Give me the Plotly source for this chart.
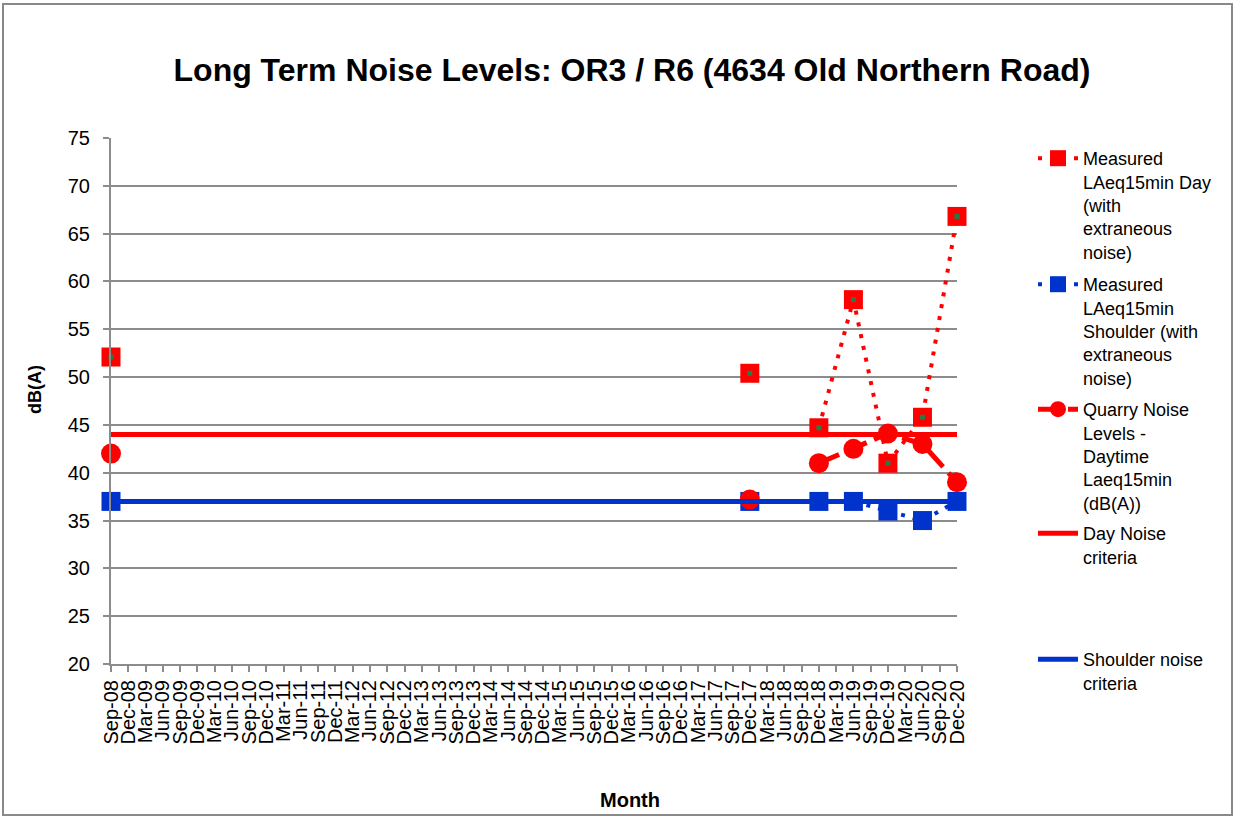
import plotly.graph_objects as go

# ---------------- data ----------------
months = ["Sep-08", "Dec-08", "Mar-09", "Jun-09", "Sep-09", "Dec-09", "Mar-10", "Jun-10",
          "Sep-10", "Dec-10", "Mar-11", "Jun-11", "Sep-11", "Dec-11", "Mar-12", "Jun-12",
          "Sep-12", "Dec-12", "Mar-13", "Jun-13", "Sep-13", "Dec-13", "Mar-14", "Jun-14",
          "Sep-14", "Dec-14", "Mar-15", "Jun-15", "Sep-15", "Dec-15", "Mar-16", "Jun-16",
          "Sep-16", "Dec-16", "Mar-17", "Jun-17", "Sep-17", "Dec-17", "Mar-18", "Jun-18",
          "Sep-18", "Dec-18", "Mar-19", "Jun-19", "Sep-19", "Dec-19", "Mar-20", "Jun-20",
          "Sep-20", "Dec-20"]

measure_dates = ["Sep-08", "Dec-17", "Dec-18", "Jun-19", "Dec-19", "Jun-20", "Dec-20"]
day_measured = [52.1, 50.4, 44.7, 58.1, 41.0, 45.8, 66.8]
shoulder_measured = [37.0, 37.0, 37.0, 37.0, 36.0, 35.0, 37.0]
quarry_noise = [42.0, 37.2, 41.0, 42.5, 44.1, 43.0, 39.0]
connected_from = "Dec-18"   # lines join the points from this survey onwards

day_criteria = [44.0] * len(months)
shoulder_criteria = [37.0] * len(months)

names = [
    "Measured<br>LAeq15min Day<br>(with<br>extraneous<br>noise)",
    "Measured<br>LAeq15min<br>Shoulder (with<br>extraneous<br>noise)",
    "Quarry Noise<br>Levels -<br>Daytime<br>Laeq15min<br>(dB(A))",
    "Day Noise<br>criteria",
    "Shoulder noise<br>criteria",
]

# ---------------- styling ----------------
RED = "#FF0000"
BLUE = "#0033CC"
GREEN = "#237D45"
GRID = "#8C8C8C"
FONT = "Liberation Sans, Arial, sans-serif"

W, H = 1235, 817
PL, PR, PT, PB = 111, 957, 138, 664   # plot area in pixels


def px_x(x):
    return (x - PL) / (PR - PL)


def px_y(y):
    return (PB - y) / (PB - PT)


k = measure_dates.index(connected_from)

fig = go.Figure()


def measured(values, color, marker, size, dash, width, name, legend):
    fig.add_trace(go.Scatter(
        x=measure_dates[k:], y=values[k:], mode="lines",
        line=dict(color=color, width=width, dash=dash),
        showlegend=False, hoverinfo="skip", cliponaxis=False))
    fig.add_trace(go.Scatter(
        x=measure_dates, y=values, mode="markers",
        marker=dict(symbol=marker, size=size, color=color, line=dict(width=0)),
        name=name, legend=legend, cliponaxis=False, showlegend=False))
    fig.add_trace(go.Scatter(
        x=[None], y=[None], mode="lines+markers",
        line=dict(color=color, width=width, dash=dash),
        marker=dict(symbol=marker, size=size, color=color),
        name=name, legend=legend, showlegend=True))


measured(day_measured, RED, "square", 19, "4px,8px", 4, names[0], "legend")
fig.add_trace(go.Scatter(
    x=measure_dates, y=day_measured, mode="markers",
    marker=dict(symbol="square", size=5, color=GREEN),
    showlegend=False, hoverinfo="skip", cliponaxis=False))
measured(shoulder_measured, BLUE, "square", 19, "4px,8px", 4, names[1], "legend2")
measured(quarry_noise, RED, "circle", 20, "22px,8px", 5, names[2], "legend3")

fig.add_trace(go.Scatter(
    x=months, y=day_criteria, mode="lines",
    line=dict(color=RED, width=5), name=names[3], legend="legend4", cliponaxis=False))
fig.add_trace(go.Scatter(
    x=months, y=shoulder_criteria, mode="lines",
    line=dict(color=BLUE, width=5), name=names[4], legend="legend5", cliponaxis=False))

leg_common = dict(font=dict(family=FONT, size=18, color="black"),
                  bgcolor="rgba(0,0,0,0)", borderwidth=0, valign="top",
                  xanchor="left", yanchor="top", itemwidth=40)
legend_x = px_x(1033)
legend_tops = [140, 266, 391, 515, 641]

fig.update_layout(
    width=W, height=H,
    margin=dict(l=PL, r=W - PR, t=PT, b=H - PB, pad=0),
    paper_bgcolor="white", plot_bgcolor="white",
    font=dict(family=FONT, size=20, color="black"),
    title=dict(text="<b>Long Term Noise Levels: OR3 / R6 (4634 Old Northern Road)</b>",
               x=632 / W, xanchor="center", y=1 - 70 / H, yanchor="middle",
               yref="container", font=dict(family=FONT, size=32, color="black")),
    xaxis=dict(type="category", categoryorder="array", categoryarray=months,
               range=[0, len(months) - 1], tickangle=-90,
               tickmode="array", tickvals=months, ticktext=months,
               tickfont=dict(family=FONT, size=20, color="black"),
               showgrid=False, showline=True, linecolor=GRID, linewidth=2,
               ticks="outside", ticklen=6, tickcolor=GRID, tickwidth=2,
               zeroline=False),
    yaxis=dict(range=[20, 75], dtick=5, tickfont=dict(family=FONT, size=20, color="black"),
               showgrid=True, gridcolor=GRID, gridwidth=2,
               showline=True, linecolor=GRID, linewidth=2,
               ticks="outside", ticklen=6, tickcolor=GRID, tickwidth=2,
               zeroline=False, ticklabelstandoff=9),
    legend=dict(x=legend_x, y=px_y(legend_tops[0]), **leg_common),
    legend2=dict(x=legend_x, y=px_y(legend_tops[1]), **leg_common),
    legend3=dict(x=legend_x, y=px_y(legend_tops[2]), **leg_common),
    legend4=dict(x=legend_x, y=px_y(legend_tops[3]), **leg_common),
    legend5=dict(x=legend_x, y=px_y(legend_tops[4]), **leg_common),
    annotations=[
        dict(text="<b>dB(A)</b>", x=px_x(35), y=px_y(390), xref="paper", yref="paper",
             xanchor="center", yanchor="middle",
             textangle=-90, showarrow=False, font=dict(family=FONT, size=18, color="black")),
        dict(text="<b>Month</b>", x=px_x(630), y=px_y(800), xref="paper", yref="paper",
             xanchor="center", yanchor="middle",
             showarrow=False, font=dict(family=FONT, size=20, color="black")),
    ],
    shapes=[dict(type="rect", xref="paper", yref="paper",
                 x0=px_x(3), x1=px_x(1232), y0=px_y(815), y1=px_y(4),
                 line=dict(color="#898989", width=2), fillcolor="rgba(0,0,0,0)", layer="below")],
)

fig.write_html("out.html", config={"displayModeBar": False},
               post_script="document.body.style.margin='0';")
